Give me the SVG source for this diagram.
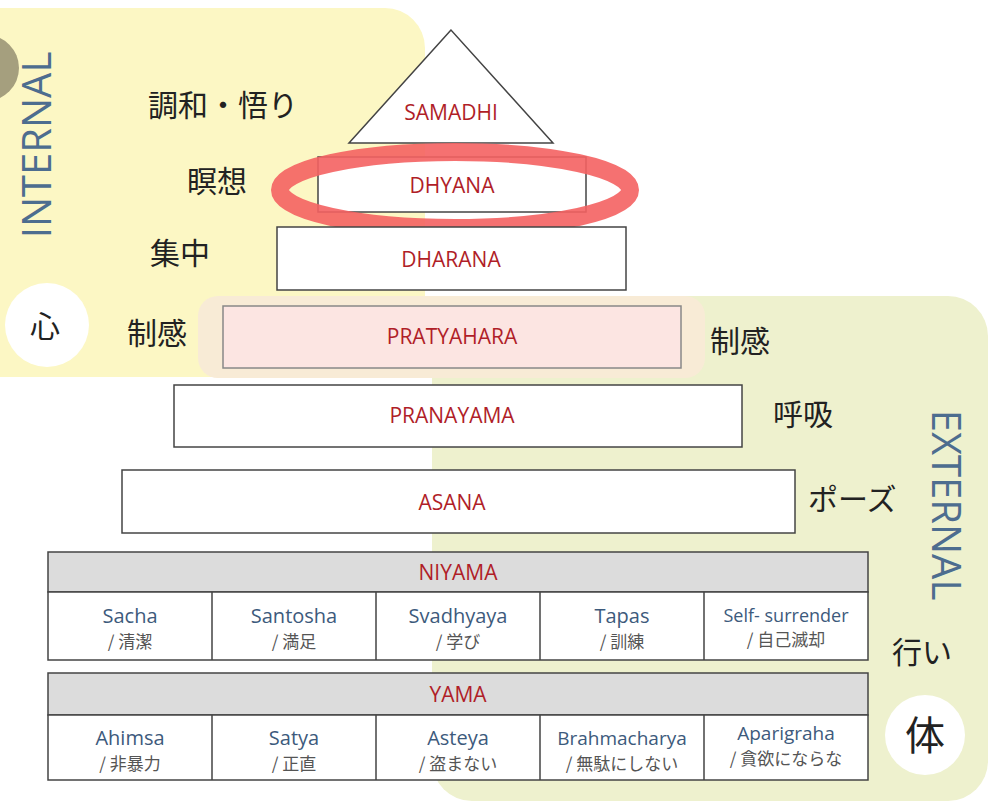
<svg xmlns="http://www.w3.org/2000/svg" width="991" height="807" viewBox="0 0 991 807">
<style>
.box{fill:#fff;stroke:#444;stroke-width:1.5}
.lbl{font-family:"Open Sans","Liberation Sans",sans-serif;fill:#b01e28;font-size:21px;font-weight:500;text-anchor:middle}
.jp{font-family:"Noto Sans CJK JP",sans-serif;fill:#222;font-size:30px}
.hd{fill:#dcdcdc;stroke:#444;stroke-width:1.5}
.en{font-family:"Open Sans","Liberation Sans",sans-serif;fill:#3d5a7c;font-size:20px;text-anchor:middle}
.jc{font-family:"Noto Sans CJK JP",sans-serif;fill:#555;font-size:17px;text-anchor:middle}
.side{font-family:"Open Sans","Liberation Sans",sans-serif;fill:#4d6d8f;font-size:40px;text-anchor:middle}
</style>
<rect width="991" height="807" fill="#fff"/>
<g id="regions">
<rect x="-40" y="8" width="465" height="369" rx="40" fill="#fcf7c4"/>
<rect x="432" y="296" width="556" height="505" rx="40" fill="#eef1ce"/>
<rect x="198" y="296" width="507" height="82" rx="20" fill="#f8ebd6"/>
<circle cx="-14" cy="68" r="33" fill="#a59f7e"/>
<circle cx="47" cy="325" r="42" fill="#fff"/>
<circle cx="925" cy="735" r="40" fill="#fff"/>
<text class="side" transform="translate(51,145) rotate(-90)">INTERNAL</text>
<text class="side" transform="translate(932,505) rotate(90)">EXTERNAL</text>
</g>
<g id="samadhi"><polygon points="451,30 349,143 553,143" class="box"/><text class="lbl" x="451" y="120">SAMADHI</text></g>
<g id="dhyana"><rect x="318" y="157" width="268" height="55" class="box"/><text class="lbl" x="452" y="193">DHYANA</text>
<ellipse cx="455" cy="190" rx="175" ry="38" fill="none" stroke="#f46262" stroke-width="18" opacity="0.9"/></g>
<g id="dharana"><rect x="277" y="227" width="349" height="63" class="box"/><text class="lbl" x="451" y="267">DHARANA</text></g>
<g id="pratyahara"><rect x="223" y="306" width="458" height="62" class="box" style="fill:#fce5e2;stroke:#888"/><text class="lbl" x="452" y="344">PRATYAHARA</text></g>
<g id="pranayama"><rect x="174" y="385" width="568" height="62" class="box"/><text class="lbl" x="452" y="423">PRANAYAMA</text></g>
<g id="asana"><rect x="122" y="470" width="673" height="63" class="box"/><text class="lbl" x="452" y="510">ASANA</text></g>
<g id="niyama">
<rect x="48" y="552" width="820" height="40" class="hd"/><text class="lbl" x="458" y="580">NIYAMA</text>
<rect x="48" y="592" width="820" height="68" class="box"/>
<path d="M212 592V660M376 592V660M540 592V660M704 592V660" stroke="#444" stroke-width="1.5"/>
<text class="en" x="130" y="623">Sacha</text><text class="jc" x="130" y="648">/ 清潔</text>
<text class="en" x="294" y="623">Santosha</text><text class="jc" x="294" y="648">/ 満足</text>
<text class="en" x="458" y="623">Svadhyaya</text><text class="jc" x="458" y="648">/ 学び</text>
<text class="en" x="622" y="623">Tapas</text><text class="jc" x="622" y="648">/ 訓練</text>
<text class="en" x="786" y="622" style="font-size:18px">Self- surrender</text><text class="jc" x="786" y="646">/ 自己滅却</text>
</g>
<g id="yama">
<rect x="48" y="673" width="820" height="42" class="hd"/><text class="lbl" x="458" y="702">YAMA</text>
<rect x="48" y="715" width="820" height="65" class="box"/>
<path d="M212 715V780M376 715V780M540 715V780M704 715V780" stroke="#444" stroke-width="1.5"/>
<text class="en" x="130" y="745">Ahimsa</text><text class="jc" x="130" y="770">/ 非暴力</text>
<text class="en" x="294" y="745">Satya</text><text class="jc" x="294" y="770">/ 正直</text>
<text class="en" x="458" y="745">Asteya</text><text class="jc" x="458" y="770">/ 盗まない</text>
<text class="en" x="622" y="745" style="font-size:19px">Brahmacharya</text><text class="jc" x="622" y="770">/ 無駄にしない</text>
<text class="en" x="786" y="740" style="font-size:19px">Aparigraha</text><text class="jc" x="786" y="765">/ 貪欲にならな</text>
</g>
<g id="labels">
<text class="jp" x="148" y="116">調和・悟り</text>
<text class="jp" x="187" y="192">瞑想</text>
<text class="jp" x="150" y="264">集中</text>
<text class="jp" x="127" y="344">制感</text>
<text class="jp" x="710" y="352">制感</text>
<text class="jp" x="773" y="425">呼吸</text>
<text class="jp" x="808" y="510">ポーズ</text>
<text class="jp" x="892" y="663">行い</text>
<text class="jp" x="30" y="337">心</text>
<text class="jp" x="905" y="750" style="font-size:40px">体</text>
</g>
</svg>
